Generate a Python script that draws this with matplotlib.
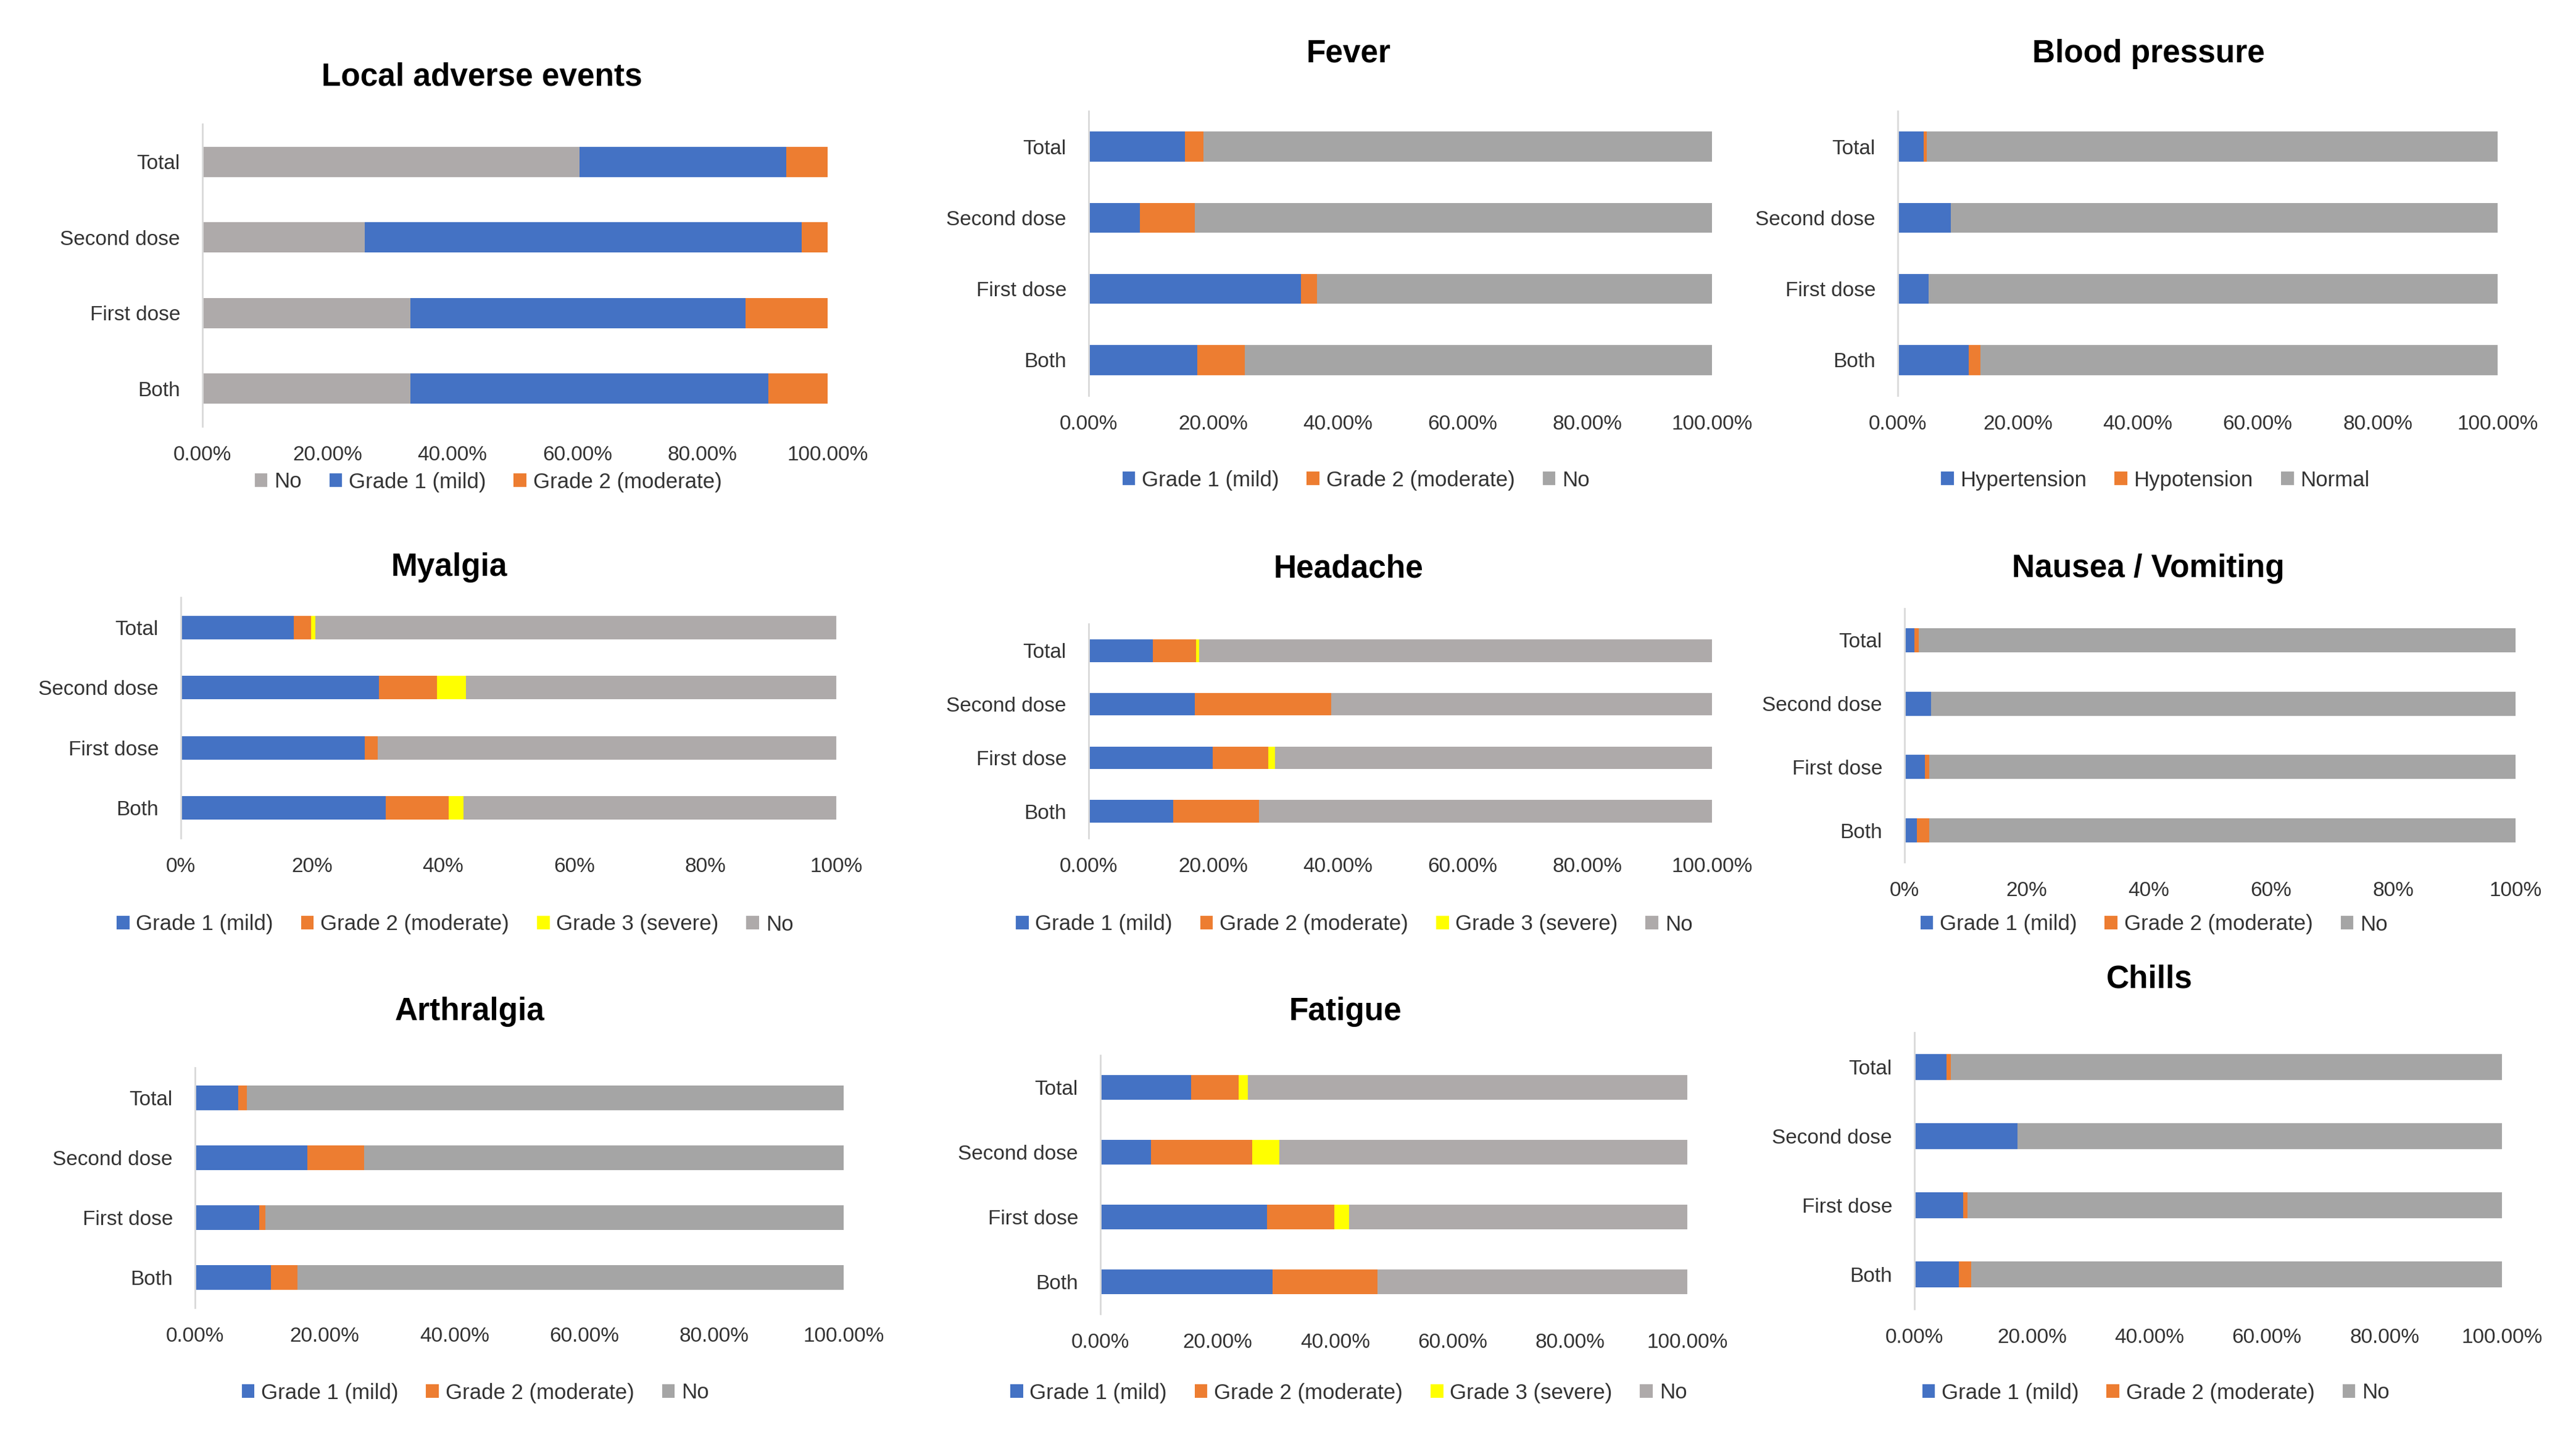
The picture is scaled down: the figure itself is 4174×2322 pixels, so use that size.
import matplotlib.pyplot as plt
from matplotlib.ticker import PercentFormatter

plt.rcParams['font.family'] = ['Liberation Sans', 'DejaVu Sans']

BLUE = '#4472C4'
ORANGE = '#ED7D31'
YELLOW = '#FFFF00'
GRAY = '#A5A5A5'
WARM_GRAY = '#AEAAAA'

W, H = 4174, 2322

# categories, bottom to top (as Excel draws them)
doses = ['Both', 'First dose', 'Second dose', 'Total']

# percentages, order: Both, First dose, Second dose, Total
local_no = [33.3, 33.3, 26.0, 60.3]
local_g1 = [57.2, 53.6, 69.9, 33.1]
local_g2 = [9.5, 13.1, 4.1, 6.6]

fever_g1 = [17.4, 34.1, 8.2, 15.4]
fever_g2 = [7.6, 2.5, 8.8, 3.0]
fever_no = [75.0, 63.4, 83.0, 81.6]

bp_hyper = [11.8, 5.1, 8.8, 4.3]
bp_hypo = [2.0, 0.0, 0.0, 0.5]
bp_normal = [86.2, 94.9, 91.2, 95.2]

myalgia_g1 = [31.3, 28.1, 30.2, 17.2]
myalgia_g2 = [9.6, 1.9, 8.9, 2.7]
myalgia_g3 = [2.2, 0.0, 4.4, 0.6]
myalgia_no = [56.9, 70.0, 56.5, 79.5]

headache_g1 = [13.6, 19.9, 17.0, 10.3]
headache_g2 = [13.7, 8.9, 21.9, 6.9]
headache_g3 = [0.0, 1.1, 0.0, 0.5]
headache_no = [72.7, 70.1, 61.1, 82.3]

nausea_g1 = [2.0, 3.3, 4.3, 1.6]
nausea_g2 = [2.0, 0.7, 0.0, 0.7]
nausea_no = [96.0, 96.0, 95.7, 97.7]

arthralgia_g1 = [11.7, 9.9, 17.3, 6.7]
arthralgia_g2 = [4.1, 0.9, 8.8, 1.3]
arthralgia_no = [84.2, 89.2, 73.9, 92.0]

fatigue_g1 = [29.3, 28.4, 8.6, 15.5]
fatigue_g2 = [17.9, 11.5, 17.3, 8.1]
fatigue_g3 = [0.0, 2.5, 4.6, 1.5]
fatigue_no = [52.8, 57.6, 69.5, 74.9]

chills_g1 = [7.6, 8.3, 17.5, 5.5]
chills_g2 = [2.1, 0.7, 0.0, 0.7]
chills_no = [90.3, 91.0, 82.5, 93.8]

G1 = 'Grade 1 (mild)'
G2 = 'Grade 2 (moderate)'
G3 = 'Grade 3 (severe)'

# title, series, tick decimals, axes box px (left, right, top, bottom),
# title centre px, legend centre px, bar height
panels = [
    ('Local adverse events',
     [('No', local_no, WARM_GRAY), (G1, local_g1, BLUE), (G2, local_g2, ORANGE)],
     2, (328, 1341, 201, 691), (781, 125), (791, 781), 0.40),
    ('Fever',
     [(G1, fever_g1, BLUE), (G2, fever_g2, ORANGE), ('No', fever_no, GRAY)],
     2, (1764, 2774, 180, 641), (2185, 87), (2197, 778), 0.42),
    ('Blood pressure',
     [('Hypertension', bp_hyper, BLUE), ('Hypotension', bp_hypo, ORANGE),
      ('Normal', bp_normal, GRAY)],
     2, (3075, 4047, 180, 641), (3481, 87), (3492, 778), 0.42),
    ('Myalgia',
     [(G1, myalgia_g1, BLUE), (G2, myalgia_g2, ORANGE), (G3, myalgia_g3, YELLOW),
      ('No', myalgia_no, WARM_GRAY)],
     0, (293, 1355, 968, 1358), (728, 920), (737, 1498), 0.39),
    ('Headache',
     [(G1, headache_g1, BLUE), (G2, headache_g2, ORANGE), (G3, headache_g3, YELLOW),
      ('No', headache_no, WARM_GRAY)],
     2, (1764, 2774, 1011, 1358), (2185, 922), (2194, 1498), 0.42),
    ('Nausea / Vomiting',
     [(G1, nausea_g1, BLUE), (G2, nausea_g2, ORANGE), ('No', nausea_no, GRAY)],
     0, (3086, 4076, 986, 1397), (3481, 922), (3490, 1498), 0.38),
    ('Arthralgia',
     [(G1, arthralgia_g1, BLUE), (G2, arthralgia_g2, ORANGE), ('No', arthralgia_no, GRAY)],
     2, (316, 1367, 1730, 2119), (761, 1639), (770, 2257), 0.41),
    ('Fatigue',
     [(G1, fatigue_g1, BLUE), (G2, fatigue_g2, ORANGE), (G3, fatigue_g3, YELLOW),
      ('No', fatigue_no, WARM_GRAY)],
     2, (1783, 2734, 1710, 2129), (2180, 1639), (2185, 2257), 0.38),
    ('Chills',
     [(G1, chills_g1, BLUE), (G2, chills_g2, ORANGE), ('No', chills_no, GRAY)],
     2, (3102, 4054, 1673, 2121), (3483, 1587), (3493, 2257), 0.38),
]

fig = plt.figure(figsize=(W / 100, H / 100), dpi=100)
fig.patch.set_facecolor('white')

for title, series, decimals, box, title_xy, legend_xy, bar_h in panels:
    left, right, top, bottom = box
    ax = fig.add_axes([left / W, 1 - bottom / H, (right - left) / W, (bottom - top) / H])

    cum = [0.0] * len(doses)
    handles = []
    for label, vals, color in series:
        bars = ax.barh(doses, vals, left=cum, height=bar_h, color=color,
                       edgecolor='none', label=label)
        handles.append(bars)
        cum = [c + v for c, v in zip(cum, vals)]

    ax.set_xlim(0, 100)
    ax.set_ylim(-0.5, 3.5)
    ax.set_xticks([0, 20, 40, 60, 80, 100])
    ax.xaxis.set_major_formatter(PercentFormatter(100, decimals=decimals))
    ax.tick_params(axis='x', length=0, pad=22, labelsize=24, labelcolor='#333333')
    ax.tick_params(axis='y', length=0, pad=26, labelsize=24, labelcolor='#333333')
    for side in ['top', 'right', 'bottom']:
        ax.spines[side].set_visible(False)
    ax.spines['left'].set_color('#D9D9D9')
    ax.spines['left'].set_linewidth(2)

    fig.text(title_xy[0] / W, 1 - title_xy[1] / H, title, ha='center', va='center',
             fontsize=37, fontweight='bold', color='black')

    ax.legend(handles=handles, loc='center',
              bbox_to_anchor=(legend_xy[0] / W, 1 - legend_xy[1] / H),
              bbox_transform=fig.transFigure, ncol=len(series), frameon=False,
              fontsize=25, handlelength=0.6, handleheight=0.6,
              handletextpad=0.3, columnspacing=1.3, labelcolor='#333333')

fig.savefig('out.png', dpi=100, facecolor='white')
